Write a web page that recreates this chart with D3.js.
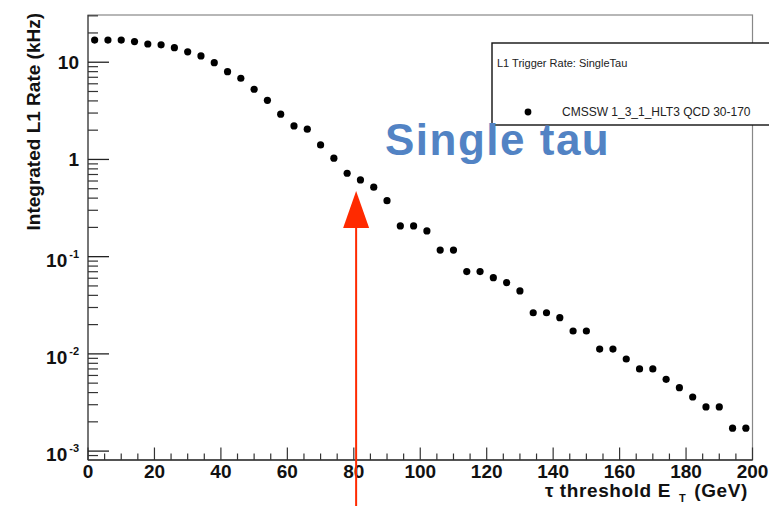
<!DOCTYPE html>
<html><head><meta charset="utf-8">
<script src="https://cdn.jsdelivr.net/npm/d3@7"></script>
<style>html,body{margin:0;padding:0;background:#fff;overflow:hidden}text{font-family:"Liberation Sans",Arial,sans-serif}</style>
</head><body>
<svg id="c" width="769" height="506"></svg>
<script>
const thresholds = [2,6,10,14,18,22,26,30,34,38,42,46,50,54,58,62,66,70,74,78,82,86,90,94,98,102,106,110,114,118,122,126,130,134,138,142,146,150,154,158,162,166,170,174,178,182,186,190,194,198];
const rates = [16.9,16.9,16.9,16.3,15.4,15.1,14.1,12.8,11.6,9.9,8.0,6.84,5.27,4.06,2.92,2.21,2.05,1.41,1.03,0.721,0.615,0.518,0.377,0.207,0.207,0.184,0.117,0.117,0.0702,0.0702,0.0608,0.0541,0.0444,0.0265,0.0265,0.0236,0.0172,0.0172,0.0112,0.0112,0.00886,0.0070,0.0070,0.00548,0.00449,0.00360,0.00285,0.00285,0.00172,0.00172];
const xMajorTicks = [0,20,40,60,80,100,120,140,160,180,200];
const yMajorTicks = [0.001,0.01,0.1,1,10];
const yTickLabels = [["10","-3"],["10","-2"],["10","-1"],["1",""],["10",""]];
const arrowAt = 80.7;
const legendTitle = "L1 Trigger Rate: SingleTau";
const legendEntry = "CMSSW 1_3_1_HLT3 QCD 30-170";
const annotation = "Single tau";

const svg = d3.select("#c");
const L = 88, R = 752.5, T = 15, B = 460;
const x = d3.scaleLinear().domain([0,200]).range([L,R]);
const y = d3.scaleLog().domain([8.1e-4, 30.6]).range([B,T]);

// frame
svg.append("rect").attr("x",L).attr("y",T).attr("width",R-L).attr("height",B-T)
  .attr("fill","none").attr("stroke","#888").attr("stroke-width",1.2);
svg.append("line").attr("x1",L).attr("x2",L).attr("y1",T).attr("y2",B).attr("stroke","#666").attr("stroke-width",1.6);
svg.append("line").attr("x1",L).attr("x2",R).attr("y1",B).attr("y2",B).attr("stroke","#333").attr("stroke-width",1.6);

// x ticks
const xMinor = d3.range(0,201,5);
svg.append("g").selectAll("line").data(xMinor).join("line")
  .attr("x1",d=>x(d)).attr("x2",d=>x(d)).attr("y1",B).attr("y2",d=>B-(d%20===0?12.5:6.5))
  .attr("stroke","#333").attr("stroke-width",1.2);
svg.append("g").selectAll("text").data(xMajorTicks).join("text")
  .attr("x",d=>x(d)).attr("y",477.5).attr("text-anchor","middle")
  .attr("font-size",19).attr("font-weight","bold").attr("fill","#111").text(d=>d);

// y ticks
const yMinor = [];
[-4,-3,-2,-1,0,1].forEach(k=>{for(let m=2;m<=9;m++){const v=m*Math.pow(10,k); if(v>=8.1e-4 && v<=30.6) yMinor.push(v);}});
svg.append("g").selectAll("line").data(yMinor).join("line")
  .attr("x1",L).attr("x2",L+10).attr("y1",d=>y(d)).attr("y2",d=>y(d)).attr("stroke","#333").attr("stroke-width",1.2);
svg.append("g").selectAll("line").data(yMajorTicks).join("line")
  .attr("x1",L).attr("x2",L+21).attr("y1",d=>y(d)).attr("y2",d=>y(d)).attr("stroke","#222").attr("stroke-width",1.3);
const yl = svg.append("g").selectAll("text").data(yMajorTicks).join("text")
  .attr("x",79).attr("y",(d,i)=>y(d)+(yTickLabels[i][1]?10:7)).attr("text-anchor","end")
  .attr("font-size",19).attr("font-weight","bold").attr("fill","#111");
yl.each(function(d,i){
  const t = d3.select(this);
  t.append("tspan").text(yTickLabels[i][0]);
  if (yTickLabels[i][1]) t.append("tspan").attr("font-size",11).attr("dy",-9).attr("dx",2).text(yTickLabels[i][1]);
});

// axis titles
svg.append("text").attr("transform","translate(40,13) rotate(-90)").attr("text-anchor","end")
  .attr("font-size",19).attr("font-weight","bold").attr("fill","#111").text("Integrated L1 Rate (kHz)");
const xt = svg.append("text").attr("x",748).attr("y",497).attr("text-anchor","end")
  .attr("font-size",19).attr("font-weight","bold").attr("letter-spacing","0.6px").attr("fill","#111");
xt.append("tspan").text("τ threshold E");
xt.append("tspan").attr("font-size",11).attr("dx",8).attr("dy",5).text("T");
xt.append("tspan").attr("dx",8).attr("dy",-5).text("(GeV)");

// points
svg.append("g").selectAll("circle").data(thresholds).join("circle")
  .attr("cx",d=>x(d)).attr("cy",(d,i)=>y(rates[i])).attr("r",3.6).attr("fill","#000");

// legend
svg.append("rect").attr("x",492).attr("y",43).attr("width",290).attr("height",82)
  .attr("fill","#fff").attr("stroke","#111").attr("stroke-width",1.4);
svg.append("text").attr("x",497).attr("y",67).attr("font-size",11).attr("fill","#222").text(legendTitle);
svg.append("circle").attr("cx",528).attr("cy",112).attr("r",3.4).attr("fill","#000");
svg.append("text").attr("x",562).attr("y",116).attr("font-size",12).attr("fill","#222").text(legendEntry);

// annotation text
svg.append("text").attr("x",385).attr("y",155).attr("font-size",44).attr("font-weight","bold")
  .attr("letter-spacing","1.5px").attr("fill","#5283c4").text(annotation);

// red arrow
const ax = x(arrowAt);
svg.append("line").attr("x1",ax).attr("x2",ax).attr("y1",225).attr("y2",506).attr("stroke","#ff2a00").attr("stroke-width",2);
svg.append("path").attr("d",`M${ax},191 L${ax-13},228 L${ax+13},228 Z`).attr("fill","#ff2a00");
</script>
</body></html>
